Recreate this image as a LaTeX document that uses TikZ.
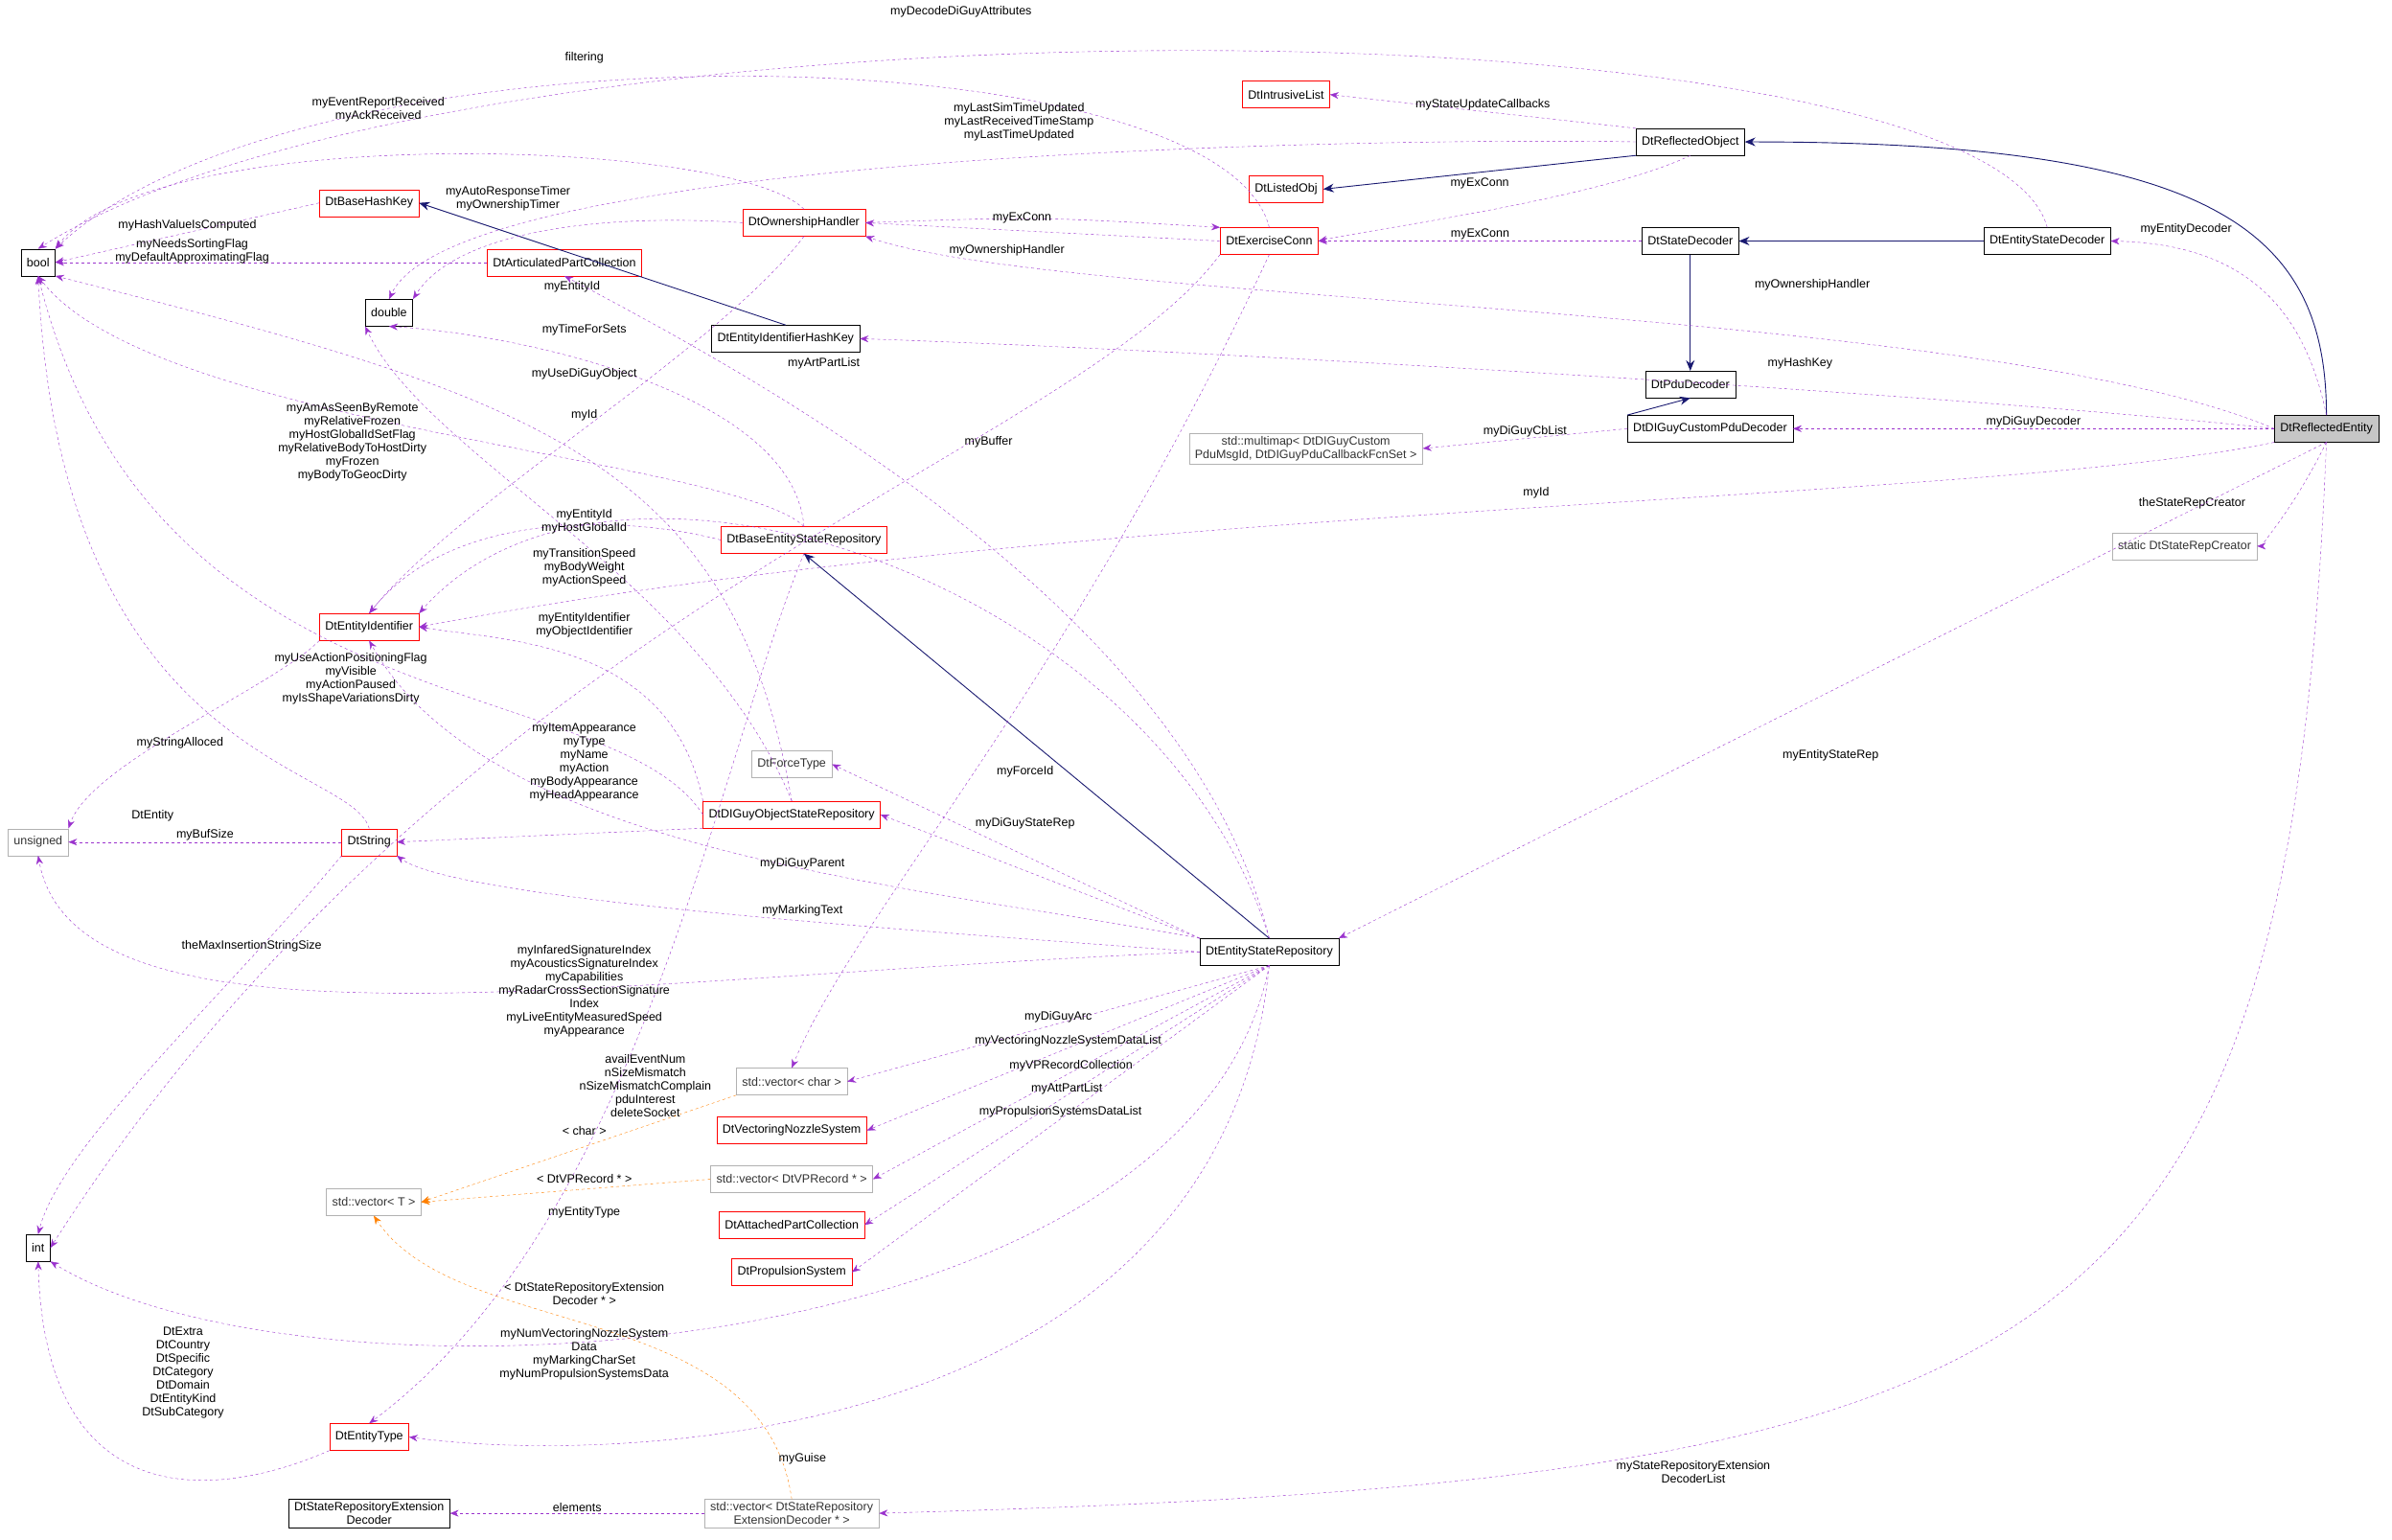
\documentclass[tikz,border=0pt]{standalone}
\usepackage{fontspec}
\setmainfont{Liberation Sans}
\usetikzlibrary{arrows.meta}
\begin{document}
\begin{tikzpicture}[x=1.592pt,y=-1.592pt,font=\fontsize{12.5}{14}\selectfont,
 box/.style={draw=black,fill=white,minimum height=28pt,inner xsep=6pt,inner ysep=3pt,align=center},
 rbox/.style={box,draw=red},
 gbox/.style={box,draw=gray!60,text=black!80},
 dep/.style={draw={rgb,255:red,154;green,50;blue,205},dashed,-{Stealth[length=9pt,width=7pt]}},
 inh/.style={draw={rgb,255:red,25;green,25;blue,112},line width=0.9pt,-{Stealth[length=11pt,width=9pt]}},
 tpl/.style={draw=orange,dashed,-{Stealth[length=9pt,width=7pt]}},
 lab/.style={align=center,inner sep=1pt}]
\useasboundingbox (0,0) rectangle (1568,1009);
% nodes
\node[box] (bool) at (25,172) {bool};
\node[box] (double) at (255,205) {double};
\node[gbox] (unsigned) at (25,552) {unsigned};
\node[box] (int) at (25,818) {int};
\node[rbox] (bhk) at (242,133) {DtBaseHashKey};
\node[rbox] (own) at (527,146) {DtOwnershipHandler};
\node[rbox] (apc) at (370,172) {DtArticulatedPartCollection};
\node[box] (eihk) at (515,222) {DtEntityIdentifierHashKey};
\node[rbox] (ec) at (832,158) {DtExerciseConn};
\node[rbox] (il) at (843,62) {DtIntrusiveList};
\node[box] (ro) at (1108,93) {DtReflectedObject};
\node[rbox] (lo) at (843,124) {DtListedObj};
\node[box] (sd) at (1108,158) {DtStateDecoder};
\node[box] (esd) at (1342,158) {DtEntityStateDecoder};
\node[box] (pdu) at (1108,252) {DtPduDecoder};
\node[box] (cpd) at (1121,281) {DtDIGuyCustomPduDecoder};
\node[gbox] (mm) at (856,294) {std::multimap< DtDIGuyCustom\\PduMsgId, DtDIGuyPduCallbackFcnSet >};
\node[box,fill=gray!45] (re) at (1525,281) {DtReflectedEntity};
\node[gbox] (src) at (1432,358) {static DtStateRepCreator};
\node[rbox] (besr) at (527,354) {DtBaseEntityStateRepository};
\node[rbox] (ei) at (242,411) {DtEntityIdentifier};
\node[gbox] (ft) at (519,501) {DtForceType};
\node[rbox] (dosr) at (519,534) {DtDIGuyObjectStateRepository};
\node[rbox] (str) at (242,552) {DtString};
\node[box] (esr) at (832,624) {DtEntityStateRepository};
\node[gbox] (vc) at (519,709) {std::vector< char >};
\node[rbox] (vns) at (519,741) {DtVectoringNozzleSystem};
\node[gbox] (vt) at (245,788) {std::vector< T >};
\node[gbox] (vvp) at (519,773) {std::vector< DtVPRecord * >};
\node[rbox] (apc2) at (519,803) {DtAttachedPartCollection};
\node[rbox] (ps) at (519,834) {DtPropulsionSystem};
\node[rbox] (et) at (242,942) {DtEntityType};
\node[box] (sred) at (242,992) {DtStateRepositoryExtension\\Decoder};
\node[gbox] (vsred) at (519,992) {std::vector< DtStateRepository\\ExtensionDecoder * >};
% inheritance
\draw[inh] (re.north) .. controls (1525,150) and (1450,93) .. (ro.east);
\draw[inh] (ro.south west) -- (lo.east);
\draw[inh] (esd.west) -- (sd.east);
\draw[inh] (sd.south) -- (pdu.north);
\draw[inh] (cpd.north west) -- (pdu.south);
\draw[inh] (eihk.north) -- (bhk.east);
\draw[inh] (esr.north) -- (besr.south);
% dependencies
\draw[dep] (esd.north) .. controls (1300,-5) and (300,-10) .. (bool.north);
\node[lab] at (630,8) {myDecodeDiGuyAttributes};
\draw[dep] (ec.north) .. controls (800,20) and (200,10) .. (bool.north east);
\node[lab] at (383,38) {filtering};
\draw[dep] (ro.west) .. controls (900,90) and (300,100) .. (double.north);
\node[lab] at (668,80) {myLastSimTimeUpdated\\myLastReceivedTimeStamp\\myLastTimeUpdated};
\draw[dep] (own.north) .. controls (480,90) and (100,80) .. (bool.north east);
\node[lab] at (248,72) {myEventReportReceived\\myAckReceived};
\draw[dep] (bhk.west) -- (bool.east) node[lab,midway,above]{myHashValueIsComputed};
\draw[dep] (own.west) .. controls (400,140) and (300,150) .. (double.north east);
\node[lab] at (333,130) {myAutoResponseTimer\\myOwnershipTimer};
\draw[dep] (apc.west) -- (bool.east);
\node[lab] at (126,165) {myNeedsSortingFlag\\myDefaultApproximatingFlag};
\draw[dep] (own.south) .. controls (470,230) and (300,330) .. (ei.north);
\node[lab] at (375,188) {myEntityId};
\draw[dep] (ec.west) -- (own.east);
\node[lab] at (660,164) {myOwnershipHandler};
\draw[dep] (own.east) .. controls (680,142) .. (ec.north west);
\node[lab] at (670,143) {myExConn};
\draw[dep] (ro.north west) -- (il.east) node[lab,midway,above]{myStateUpdateCallbacks};
\draw[dep] (ro.south) .. controls (1050,130) and (900,150) .. (ec.east);
\node[lab] at (970,120) {myExConn};
\draw[dep] (sd.west) -- (ec.east) node[lab,midway,above]{myExConn};
\draw[dep] (re.west) .. controls (1300,200) and (700,200) .. (own.south east);
\node[lab] at (1188,187) {myOwnershipHandler};
\draw[dep] (re.west) .. controls (1300,260) and (800,230) .. (eihk.east);
\node[lab] at (1180,238) {myHashKey};
\draw[dep] (re.west) -- (cpd.east) node[lab,midway,above]{myDiGuyDecoder};
\draw[dep] (cpd.west) -- (mm.east) node[lab,midway,above]{myDiGuyCbList};
\draw[dep] (re.south west) .. controls (1300,330) and (700,330) .. (ei.east);
\node[lab] at (1007,323) {myId};
\draw[dep] (re.south) .. controls (1500,340) and (1480,358) .. (src.east);
\node[lab] at (1437,330) {theStateRepCreator};
\draw[dep] (re.north) .. controls (1510,200) and (1470,160) .. (esd.east);
\node[lab] at (1433,150) {myEntityDecoder};
\draw[dep] (re.south) -- (esr.north east);
\node[lab] at (1200,495) {myEntityStateRep};
\draw[dep] (re.south) .. controls (1500,900) and (1350,970) .. (vsred.east);
\node[lab] at (1110,965) {myStateRepositoryExtension\\DecoderList};
% exercise conn
\draw[dep] (ec.south) .. controls (700,450) and (560,600) .. (vc.north);
\node[lab] at (648,290) {myBuffer};
\draw[dep] (ec.south west) .. controls (700,300) and (300,400) .. (int.east);
\node[lab] at (423,712) {availEventNum\\nSizeMismatch\\nSizeMismatchComplain\\pduInterest\\deleteSocket};
% repositories
\draw[dep] (esr.north) .. controls (780,400) and (500,250) .. (apc.south);
\node[lab] at (540,238) {myArtPartList};
\draw[dep] (esr.north) .. controls (760,380) and (400,260) .. (ei.north east);
\node[lab] at (383,272) {myId};
\draw[dep] (besr.north) .. controls (480,300) and (100,280) .. (bool.south);
\node[lab] at (231,290) {myAmAsSeenByRemote\\myRelativeFrozen\\myHostGlobalIdSetFlag\\myRelativeBodyToHostDirty\\myFrozen\\myBodyToGeocDirty};
\draw[dep] (besr.north) .. controls (520,260) and (350,220) .. (double.south);
\node[lab] at (383,216) {myTimeForSets};
\draw[dep] (dosr.north) .. controls (480,300) and (350,260) .. (bool.south east);
\node[lab] at (383,245) {myUseDiGuyObject};
\draw[dep] (besr.west) .. controls (420,340) and (300,330) .. (ei.north);
\node[lab] at (383,342) {myEntityId\\myHostGlobalId};
\draw[dep] (dosr.north) .. controls (460,380) and (280,300) .. (double.south west);
\node[lab] at (383,372) {myTransitionSpeed\\myBodyWeight\\myActionSpeed};
\draw[dep] (dosr.north west) .. controls (440,420) and (330,420) .. (ei.east);
\node[lab] at (383,410) {myEntityIdentifier\\myObjectIdentifier};
\draw[dep] (dosr.west) .. controls (400,440) and (100,480) .. (bool.south);
\node[lab] at (230,445) {myUseActionPositioningFlag\\myVisible\\myActionPaused\\myIsShapeVariationsDirty};
\draw[dep] (dosr.south west) -- (str.east);
\node[lab] at (383,500) {myItemAppearance\\myType\\myName\\myAction\\myBodyAppearance\\myHeadAppearance};
\draw[dep] (besr.south) .. controls (470,500) and (420,800) .. (et.north);
\node[lab] at (383,795) {myEntityType};
\draw[dep] (esr.north west) -- (ft.east);
\node[lab] at (672,506) {myForceId};
\draw[dep] (esr.north west) -- (dosr.east);
\node[lab] at (672,540) {myDiGuyStateRep};
\draw[dep] (esr.north west) .. controls (600,580) and (320,560) .. (ei.south);
\node[lab] at (526,566) {myDiGuyParent};
\draw[dep] (esr.west) .. controls (600,610) and (300,590) .. (str.south east);
\node[lab] at (526,597) {myMarkingText};
\draw[dep] (esr.west) .. controls (400,640) and (50,700) .. (unsigned.south);
\node[lab] at (383,650) {myInfaredSignatureIndex\\myAcousticsSignatureIndex\\myCapabilities\\myRadarCrossSectionSignature\\Index\\myLiveEntityMeasuredSpeed\\myAppearance};
\draw[dep] (esr.south) -- (vc.east) node[lab,pos=0.5,above]{myDiGuyArc};
\draw[dep] (esr.south) -- (vns.east) node[lab,pos=0.5,above]{myVectoringNozzleSystemDataList};
\draw[dep] (esr.south) -- (vvp.east) node[lab,pos=0.5,above]{myVPRecordCollection};
\draw[dep] (esr.south) -- (apc2.east) node[lab,pos=0.5,above]{myAttPartList};
\draw[dep] (esr.south) -- (ps.east) node[lab,pos=0.5,above]{myPropulsionSystemsDataList};
\draw[dep] (esr.south) .. controls (780,900) and (200,930) .. (int.south east);
\node[lab] at (383,888) {myNumVectoringNozzleSystem\\Data\\myMarkingCharSet\\myNumPropulsionSystemsData};
\draw[dep] (esr.south) .. controls (800,950) and (400,960) .. (et.east);
\node[lab] at (526,956) {myGuise};
% small classes
\draw[dep] (ei.south west) .. controls (180,450) and (60,500) .. (unsigned.north east);
\node[lab] at (100,535) {DtEntity};
\draw[dep] (str.north) .. controls (230,500) and (40,500) .. (bool.south);
\node[lab] at (118,487) {myStringAlloced};
\draw[dep] (str.west) -- (unsigned.east) node[lab,midway,above]{myBufSize};
\draw[dep] (str.south west) .. controls (150,650) and (40,750) .. (int.north);
\node[lab] at (165,620) {theMaxInsertionStringSize};
\draw[dep] (et.south west) .. controls (150,980) and (30,1000) .. (int.south);
\node[lab] at (120,900) {DtExtra\\DtCountry\\DtSpecific\\DtCategory\\DtDomain\\DtEntityKind\\DtSubCategory};
\draw[dep] (vsred.west) -- (sred.east) node[lab,midway,above]{elements};
\draw[tpl] (vc.south west) -- (vt.east);
\node[lab] at (383,741) {< char >};
\draw[tpl] (vvp.west) -- (vt.east);
\node[lab] at (383,773) {< DtVPRecord * >};
\draw[tpl] (vsred.north) .. controls (500,850) and (300,880) .. (vt.south);
\node[lab] at (383,848) {< DtStateRepositoryExtension\\Decoder * >};
\end{tikzpicture}
\end{document}
